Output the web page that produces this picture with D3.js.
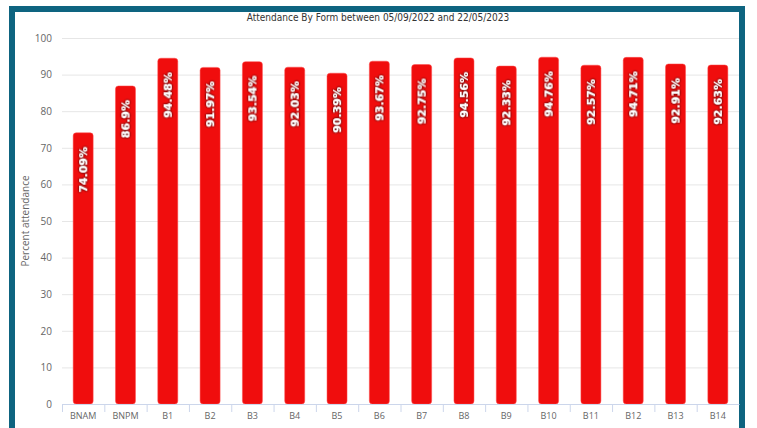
<!DOCTYPE html>
<html>
<head>
<meta charset="utf-8">
<script src="https://cdn.jsdelivr.net/npm/d3@7"></script>
<style>
  body { margin: 0; background: #fff; }
  svg { display: block; }
</style>
</head>
<body>
<div id="chart"></div>
<script>
// chart data
var forms  = ["BNAM", "BNPM", "B1", "B2", "B3", "B4", "B5", "B6", "B7", "B8", "B9", "B10", "B11", "B12", "B13", "B14"];
var values = [74.09, 86.9, 94.48, 91.97, 93.54, 92.03, 90.39, 93.67, 92.75, 94.56, 92.33, 94.76, 92.57, 94.71, 92.91, 92.63];
var labels = ["74.09%", "86.9%", "94.48%", "91.97%", "93.54%", "92.03%", "90.39%", "93.67%", "92.75%", "94.56%", "92.33%", "94.76%", "92.57%", "94.71%", "92.91%", "92.63%"];
var yTicks = [0, 10, 20, 30, 40, 50, 60, 70, 80, 90, 100];

var W = 757, H = 428;
var margin = {top: 38, right: 18, bottom: 24, left: 62};
var width  = W - margin.left - margin.right,
    height = H - margin.top - margin.bottom;

var svg = d3.select("#chart").append("svg")
    .attr("width", W)
    .attr("height", H);

// soft dark glow behind bar labels
var defs = svg.append("defs");
var f = defs.append("filter").attr("id", "halo")
    .attr("x", "-50%").attr("y", "-50%").attr("width", "200%").attr("height", "200%");
f.append("feGaussianBlur").attr("in", "SourceAlpha").attr("stdDeviation", 1.3).attr("result", "b");
f.append("feFlood").attr("flood-color", "#3a0000").attr("flood-opacity", 0.85).attr("result", "c");
f.append("feComposite").attr("in", "c").attr("in2", "b").attr("operator", "in").attr("result", "s");
var fm = f.append("feMerge");
fm.append("feMergeNode").attr("in", "s");
fm.append("feMergeNode").attr("in", "s");
fm.append("feMergeNode").attr("in", "SourceGraphic");

// outer frame
svg.append("rect")
    .attr("x", 12).attr("y", 9)
    .attr("width", 730).attr("height", 440)
    .attr("fill", "none")
    .attr("stroke", "#0e6480")
    .attr("stroke-width", 6);

svg.append("text")
    .attr("x", 378).attr("y", 21)
    .attr("text-anchor", "middle")
    .style("font-family", "'DejaVu Sans Condensed', 'DejaVu Sans', sans-serif")
    .style("font-size", "10px")
    .style("fill", "#333")
    .text("Attendance By Form between 05/09/2022 and 22/05/2023");

var g = svg.append("g")
    .attr("transform", "translate(" + margin.left + "," + margin.top + ")");

var x = d3.scaleBand().domain(forms).range([0, width]).padding(0);
var y = d3.scaleLinear().domain([0, 100]).range([height, 0]);

// gridlines + y labels
var yAxis = g.append("g")
    .call(d3.axisLeft(y).tickValues(yTicks).tickSize(-width).tickPadding(10));
yAxis.select(".domain").remove();
yAxis.selectAll(".tick line").attr("stroke", "#e6e6e6");
yAxis.selectAll(".tick text")
    .style("font-family", "'Open Sans', sans-serif")
    .style("font-size", "10px")
    .style("fill", "#666");

g.append("text")
    .attr("transform", "translate(-33," + (height / 2) + ") rotate(-90)")
    .attr("text-anchor", "middle")
    .style("font-family", "'Open Sans', sans-serif")
    .style("font-size", "10px")
    .style("fill", "#666")
    .text("Percent attendance");

// bars, rounded both ends
var barW = 20;
g.selectAll(".bar")
    .data(values)
  .enter().append("rect")
    .attr("class", "bar")
    .attr("x", (d, i) => x(forms[i]) + x.bandwidth() / 2 - barW / 2)
    .attr("y", d => y(d))
    .attr("width", barW)
    .attr("height", d => y(0) - y(d))
    .attr("rx", 3)
    .attr("fill", "#f00d0d")
    .attr("stroke", "#ff4d4d")
    .attr("stroke-width", 0.5);

// x axis
var xAxis = g.append("g")
    .attr("transform", "translate(0," + height + ")")
    .call(d3.axisBottom(x).tickSize(0).tickPadding(9));
xAxis.select(".domain").attr("stroke", "#ccd6eb");
xAxis.selectAll(".tick text")
    .style("font-family", "'Open Sans', sans-serif")
    .style("font-size", "9px")
    .style("fill", "#666");
// tick marks on category boundaries
g.append("g").selectAll("line")
    .data(forms)
  .enter().append("line")
    .attr("x1", d => x(d) + 0.5)
    .attr("x2", d => x(d) + 0.5)
    .attr("y1", height)
    .attr("y2", height + 8)
    .attr("stroke", "#ccd6eb");

// value labels inside bars
g.selectAll(".lbl")
    .data(values)
  .enter().append("text")
    .attr("class", "lbl")
    .attr("transform", (d, i) => "translate(" + (x(forms[i]) + x.bandwidth() / 2 + 4) + "," + (y(d) + 14) + ") rotate(-90)")
    .attr("text-anchor", "end")
    .attr("filter", "url(#halo)")
    .style("font-family", "'DejaVu Sans', sans-serif")
    .style("font-size", "11px")
    .style("font-weight", "bold")
    .style("fill", "#fff")
    .text((d, i) => labels[i]);
</script>
</body>
</html>
